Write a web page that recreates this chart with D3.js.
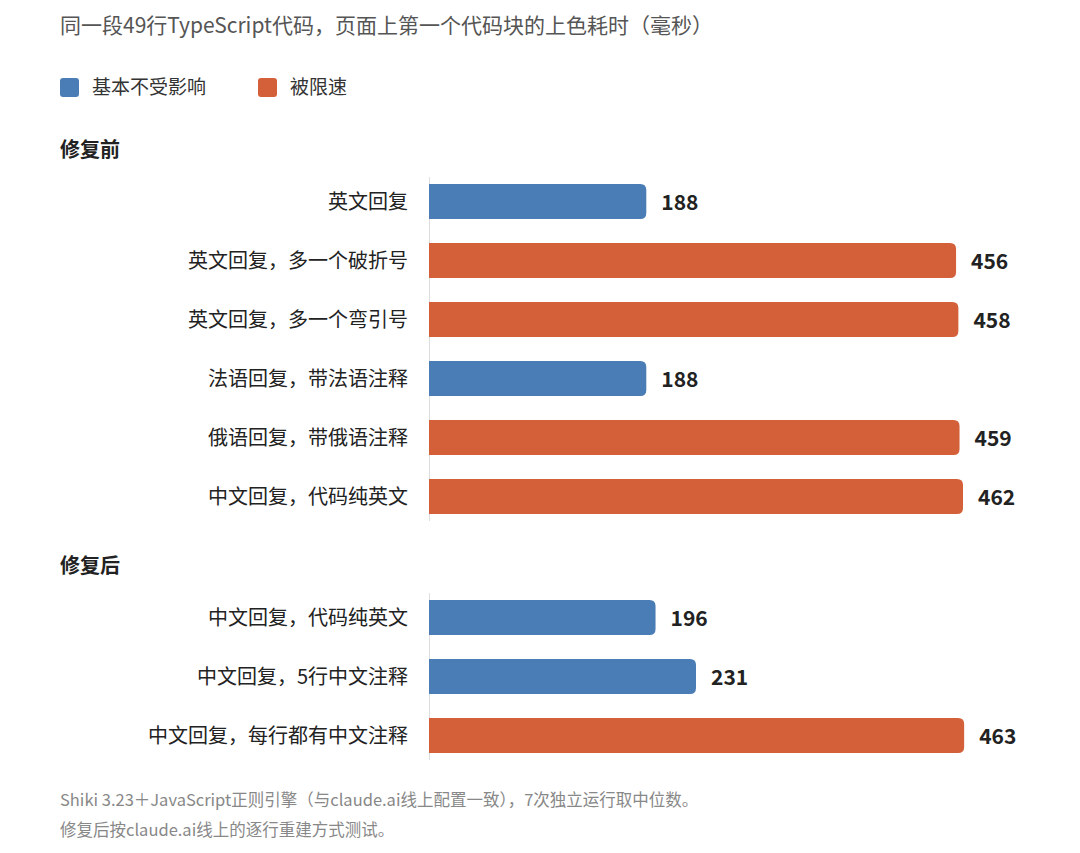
<!DOCTYPE html>
<html><head><meta charset="utf-8">
<script src="https://cdn.jsdelivr.net/npm/d3@7"></script>
<style>body{margin:0;background:#fff}text{font-family:"Noto Sans CJK SC","Noto Sans",sans-serif}</style>
</head><body><svg id="c" width="1080" height="853"></svg>
<script>
var groups = ["修复前", "修复后"];
var labels = [
  ["英文回复", "英文回复，多一个破折号", "英文回复，多一个弯引号", "法语回复，带法语注释", "俄语回复，带俄语注释", "中文回复，代码纯英文"],
  ["中文回复，代码纯英文", "中文回复，5行中文注释", "中文回复，每行都有中文注释"]
];
var values = [[188, 456, 458, 188, 459, 462], [196, 231, 463]];
var kinds = [[0, 1, 1, 0, 1, 1], [0, 0, 1]];
var legendNames = ["基本不受影响", "被限速"];
var colors = ["#4a7db5", "#d4603a"];

var svg = d3.select("#c");
var x = d3.scaleLinear().domain([0, 462]).range([429, 963]);
var barH = 35, r = 6;

svg.append("text").attr("x", 60).attr("y", 33).attr("font-size", 21).attr("fill", "#555")
  .text("同一段49行TypeScript代码，页面上第一个代码块的上色耗时（毫秒）");

legendNames.forEach(function(n, i) {
  var lx = [60, 258][i];
  svg.append("rect").attr("x", lx).attr("y", 78).attr("width", 19).attr("height", 19).attr("rx", 3).attr("fill", colors[i]);
  svg.append("text").attr("x", lx + 32).attr("y", 94).attr("font-size", 19).attr("fill", "#333").text(n);
});

var groupTop = [150, 566];
groups.forEach(function(g, gi) {
  svg.append("text").attr("x", 60).attr("y", groupTop[gi] + 7).attr("font-size", 20).attr("font-weight", "bold").attr("fill", "#222").text(g);
  var y = d3.scaleBand().domain(d3.range(values[gi].length))
    .range([groupTop[gi] + 22, groupTop[gi] + 22 + 59 * values[gi].length]);
  svg.append("line").attr("x1", 429.5).attr("x2", 429.5).attr("y1", y.range()[0] + 5).attr("y2", y.range()[1] - 5)
    .attr("stroke", "#ddd");
  values[gi].forEach(function(v, i) {
    var cy = y(i) + y.bandwidth() / 2;
    var x0 = x(0), x1 = x(v), t = cy - barH / 2, b = cy + barH / 2;
    svg.append("path").attr("fill", colors[kinds[gi][i]])
      .attr("d", "M" + x0 + "," + t + "H" + (x1 - r) + "Q" + x1 + "," + t + " " + x1 + "," + (t + r) +
        "V" + (b - r) + "Q" + x1 + "," + b + " " + (x1 - r) + "," + b + "H" + x0 + "Z");
    svg.append("text").attr("x", 408).attr("y", cy + 7).attr("text-anchor", "end").attr("font-size", 20).attr("fill", "#222").text(labels[gi][i]);
    svg.append("text").attr("x", x1 + 15).attr("y", cy + 8).attr("font-size", 21).attr("font-weight", "bold").attr("fill", "#222").text(v);
  });
});

["Shiki 3.23＋JavaScript正则引擎（与claude.ai线上配置一致），7次独立运行取中位数。", "修复后按claude.ai线上的逐行重建方式测试。"].forEach(function(t, i) {
  svg.append("text").attr("x", 60).attr("y", 806 + i * 30).attr("font-size", 16.5).attr("fill", "#888").text(t);
});
</script></body></html>
